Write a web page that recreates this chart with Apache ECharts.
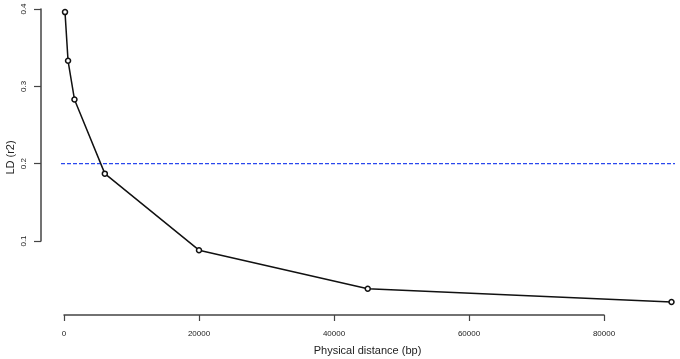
<!DOCTYPE html>
<html><head><meta charset="utf-8">
<script src="https://cdn.jsdelivr.net/npm/echarts@6/dist/echarts.min.js"></script>
<style>html,body{margin:0;padding:0;background:#fff}#c{width:680px;height:359px}</style>
</head><body><div id="c"></div>
<script>
const distances = [150, 600, 1550, 6050, 20000, 45000, 90000];
const ldValues = [0.396, 0.333, 0.283, 0.187, 0.088, 0.038, 0.021];
const xTicks = [0, 20000, 40000, 60000, 80000];
const yTicks = [0.1, 0.2, 0.3, 0.4];
const thresholdLD = 0.2;
const xTitle = 'Physical distance (bp)';
const yTitle = 'LD (r2)';
const xRange = [-3407, 90667];
const yRange = [0.00414, 0.41164];
const thresholdSpan = [-444, 90519];

const font = '"Liberation Sans", Arial, sans-serif';
const axisColor = '#444';
const hiddenParts = {axisLine: {show: false, onZero: false}, axisTick: {show: false}, axisLabel: {show: false}, splitLine: {show: false}};
const chart = echarts.init(document.getElementById('c'), null, {renderer: 'canvas'});
chart.setOption({
  animation: false,
  backgroundColor: '#fff',
  grid: [
    {left: 41, right: 4, top: 0, bottom: 44, outerBoundsMode: 'none'},
    {left: 41, width: 10, top: 9, height: 232, outerBoundsMode: 'none'},
    {left: 64, width: 540, bottom: 44, height: 10, outerBoundsMode: 'none'}
  ],
  xAxis: [
    Object.assign({gridIndex: 0, type: 'value', min: xRange[0], max: xRange[1],
      name: xTitle, nameLocation: 'middle', nameGap: 30, nameMoveOverlap: false,
      nameTextStyle: {fontSize: 11, color: '#222', fontFamily: font, padding: [0, 0, 0, 18]}}, hiddenParts),
    {gridIndex: 1, type: 'value', show: false},
    {
      gridIndex: 2, type: 'value', min: xTicks[0], max: xTicks[xTicks.length - 1], interval: 20000,
      axisLine: {show: true, onZero: false, lineStyle: {color: axisColor, width: 1.5}},
      splitLine: {show: false},
      axisTick: {show: true, length: 6, lineStyle: {color: axisColor, width: 1.2}},
      axisLabel: {fontSize: 8, color: '#222', margin: 15, fontFamily: font, formatter: v => String(v)}
    }
  ],
  yAxis: [
    Object.assign({gridIndex: 0, type: 'value', min: yRange[0], max: yRange[1],
      name: yTitle, nameLocation: 'middle', nameGap: 25, nameRotate: 90, nameMoveOverlap: false,
      nameTextStyle: {fontSize: 11, color: '#222', fontFamily: font}}, hiddenParts),
    {
      gridIndex: 1, type: 'value', min: yTicks[0], max: yTicks[yTicks.length - 1], interval: 0.1,
      axisLine: {show: true, onZero: false, lineStyle: {color: axisColor, width: 1.5}},
      splitLine: {show: false},
      axisTick: {show: true, length: 7, lineStyle: {color: axisColor, width: 1.2}},
      axisLabel: {fontSize: 8, color: '#222', margin: 13, rotate: 90, fontFamily: font,
        formatter: v => v.toFixed(1)}
    },
    {gridIndex: 2, type: 'value', show: false}
  ],
  series: [
    {
      type: 'line', name: 'threshold', silent: true, symbol: 'none', z: 1,
      xAxisIndex: 0, yAxisIndex: 0,
      data: [[thresholdSpan[0], thresholdLD], [thresholdSpan[1], thresholdLD]],
      lineStyle: {color: '#2a48ee', width: 1.2, type: [4, 2]}
    },
    {
      type: 'line', name: 'LD', z: 3, clip: false, xAxisIndex: 0, yAxisIndex: 0,
      data: distances.map((d, i) => [d, ldValues[i]]),
      symbol: 'circle', symbolSize: 5, showAllSymbol: true,
      lineStyle: {color: '#111', width: 1.5},
      itemStyle: {color: '#fff', borderColor: '#111', borderWidth: 1.5}
    }
  ]
});
</script></body></html>
